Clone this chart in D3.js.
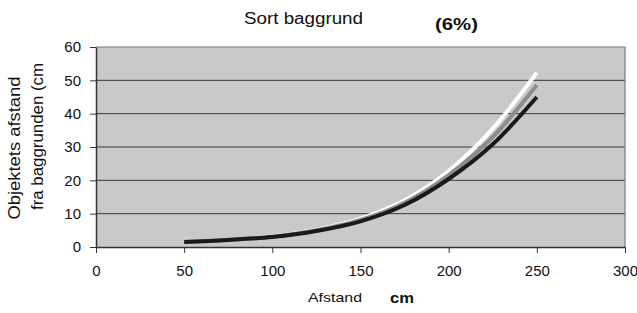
<!DOCTYPE html>
<html>
<head>
<meta charset="utf-8">
<script src="https://cdn.jsdelivr.net/npm/d3@7"></script>
<style>
  body { margin: 0; background: #fff; }
  svg text { font-family: "Liberation Sans", Arial, sans-serif; fill: #111; }
</style>
</head>
<body>
<svg id="chart" width="637" height="313"></svg>
<script>
// distance (cm) sampled along the curves
const afstand = [50, 75, 100, 125, 150, 175, 200, 225, 250];
// three series, drawn white -> gray -> black
const seriesWhite = [1.6, 2.2, 3.2, 5.2, 8.5, 14.0, 22.8, 35.5, 52.3];
const seriesGray  = [1.6, 2.2, 3.1, 5.0, 8.1, 13.3, 21.6, 33.0, 48.6];
const seriesBlack = [1.5, 2.1, 3.0, 4.8, 7.7, 12.6, 20.4, 30.8, 45.0];
const xTicks = [0, 50, 100, 150, 200, 250, 300];
const yTicks = [0, 10, 20, 30, 40, 50, 60];

const margin = { top: 47, right: 12, bottom: 66, left: 96 };
const width = 637 - margin.left - margin.right;
const height = 313 - margin.top - margin.bottom;

const svg = d3.select('#chart');
const g = svg.append('g')
    .attr('transform', `translate(${margin.left},${margin.top})`);

const x = d3.scaleLinear().domain([0, 300]).range([0, width]);
const y = d3.scaleLinear().domain([0, 60]).range([height, 0]);

// plot area
g.append('rect')
    .attr('width', width)
    .attr('height', height)
    .attr('fill', '#c8c9cb');

// horizontal gridlines
g.selectAll('.grid')
    .data(yTicks.filter(d => d > 0 && d < 60))
    .enter()
    .append('line')
    .attr('x1', 0).attr('x2', width)
    .attr('y1', d => y(d)).attr('y2', d => y(d))
    .attr('stroke', '#3a3a3a')
    .attr('stroke-width', 1);

// top and right border
g.append('path')
    .attr('d', `M0,${y(60)}H${width}V${height}`)
    .attr('fill', 'none')
    .attr('stroke', '#7a7a7a')
    .attr('stroke-width', 1.2);

// axes
const xAxis = g.append('g')
    .attr('transform', `translate(0,${height})`)
    .call(d3.axisBottom(x).tickValues(xTicks).tickSize(6).tickPadding(12).tickSizeOuter(0));
const yAxis = g.append('g')
    .call(d3.axisLeft(y).tickValues(yTicks).tickSize(6).tickPadding(9).tickSizeOuter(0));

[xAxis, yAxis].forEach(ax => {
    ax.select('.domain').attr('stroke', '#333').attr('stroke-width', 1.5);
    ax.selectAll('.tick line').attr('stroke', '#333').attr('stroke-width', 1);
    ax.selectAll('.tick text')
        .style('font-size', '15px')
        .attr('fill', '#111');
});

// curves
const line = d3.line()
    .x((d, i) => x(afstand[i]))
    .y(d => y(d))
    .curve(d3.curveMonotoneX);

const series = [
    { values: seriesWhite, color: '#ffffff' },
    { values: seriesGray, color: '#8c8c8c' },
    { values: seriesBlack, color: '#1a1a1a' },
];
g.selectAll('.curve')
    .data(series)
    .enter()
    .append('path')
    .attr('d', d => line(d.values))
    .attr('fill', 'none')
    .attr('stroke', d => d.color)
    .attr('stroke-width', 4);

// titles
svg.append('text')
    .attr('x', 244).attr('y', 24)
    .attr('textLength', 119).attr('lengthAdjust', 'spacingAndGlyphs')
    .style('font-size', '16px')
    .text('Sort baggrund');
svg.append('text')
    .attr('x', 435).attr('y', 30)
    .attr('textLength', 43).attr('lengthAdjust', 'spacingAndGlyphs')
    .style('font-size', '16px').style('font-weight', 'bold')
    .text('(6%)');

svg.append('text')
    .attr('x', 308).attr('y', 302)
    .attr('textLength', 54).attr('lengthAdjust', 'spacingAndGlyphs')
    .style('font-size', '13px')
    .text('Afstand');
svg.append('text')
    .attr('x', 390).attr('y', 303)
    .attr('textLength', 24).attr('lengthAdjust', 'spacingAndGlyphs')
    .style('font-size', '14px').style('font-weight', 'bold')
    .text('cm');

svg.append('text')
    .attr('transform', 'translate(20,148) rotate(-90)')
    .attr('text-anchor', 'middle')
    .attr('textLength', 143).attr('lengthAdjust', 'spacingAndGlyphs')
    .style('font-size', '16px')
    .text('Objektets afstand');
svg.append('text')
    .attr('transform', 'translate(42.5,136.5) rotate(-90)')
    .attr('text-anchor', 'middle')
    .attr('textLength', 147).attr('lengthAdjust', 'spacingAndGlyphs')
    .style('font-size', '16px')
    .text('fra baggrunden (cm');
</script>
</body>
</html>
